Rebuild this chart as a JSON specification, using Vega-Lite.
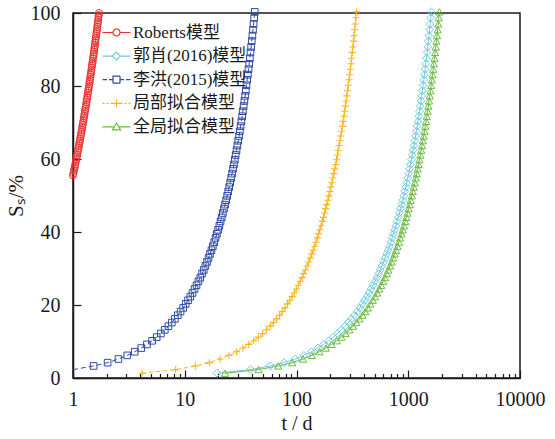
{
  "$schema": "https://vega.github.io/schema/vega-lite/v6.json",
  "width": 447,
  "height": 365,
  "autosize": "none",
  "padding": {"left": 73, "top": 13, "right": 35, "bottom": 61},
  "background": "white",
  "config": {
    "font": "Liberation Serif, Noto Sans CJK SC",
    "view": {"stroke": "#1a1a1a", "strokeWidth": 1.5},
    "axis": {
      "grid": false,
      "domainColor": "#1a1a1a",
      "domainWidth": 1.5,
      "tickColor": "#1a1a1a",
      "tickWidth": 1.2,
      "labelFont": "Liberation Serif, Noto Sans CJK SC",
      "labelFontSize": 20,
      "labelColor": "#1a1a1a",
      "titleFont": "Liberation Serif, Noto Sans CJK SC",
      "titleFontSize": 21,
      "titleFontWeight": "normal",
      "titleColor": "#1a1a1a"
    }
  },
  "data": {
    "values": [
      {"m":"Roberts模型","t":1.00,"s":55.5},{"m":"Roberts模型","t":1.01,"s":56.1},{"m":"Roberts模型","t":1.02,"s":56.8},{"m":"Roberts模型","t":1.03,"s":57.4},{"m":"Roberts模型","t":1.04,"s":58.0},{"m":"Roberts模型","t":1.05,"s":58.6},{"m":"Roberts模型","t":1.06,"s":59.3},{"m":"Roberts模型","t":1.07,"s":59.9},{"m":"Roberts模型","t":1.08,"s":60.5},{"m":"Roberts模型","t":1.09,"s":61.1},
      {"m":"Roberts模型","t":1.10,"s":61.8},{"m":"Roberts模型","t":1.11,"s":62.4},{"m":"Roberts模型","t":1.12,"s":63.0},{"m":"Roberts模型","t":1.13,"s":63.6},{"m":"Roberts模型","t":1.14,"s":64.3},{"m":"Roberts模型","t":1.15,"s":64.9},{"m":"Roberts模型","t":1.16,"s":65.5},{"m":"Roberts模型","t":1.17,"s":66.2},{"m":"Roberts模型","t":1.18,"s":66.8},{"m":"Roberts模型","t":1.19,"s":67.4},
      {"m":"Roberts模型","t":1.20,"s":68.0},{"m":"Roberts模型","t":1.21,"s":68.7},{"m":"Roberts模型","t":1.22,"s":69.3},{"m":"Roberts模型","t":1.23,"s":69.9},{"m":"Roberts模型","t":1.24,"s":70.5},{"m":"Roberts模型","t":1.25,"s":71.2},{"m":"Roberts模型","t":1.26,"s":71.8},{"m":"Roberts模型","t":1.27,"s":72.4},{"m":"Roberts模型","t":1.28,"s":73.1},{"m":"Roberts模型","t":1.29,"s":73.7},
      {"m":"Roberts模型","t":1.30,"s":74.3},{"m":"Roberts模型","t":1.31,"s":74.9},{"m":"Roberts模型","t":1.32,"s":75.6},{"m":"Roberts模型","t":1.33,"s":76.2},{"m":"Roberts模型","t":1.34,"s":76.8},{"m":"Roberts模型","t":1.35,"s":77.4},{"m":"Roberts模型","t":1.36,"s":78.1},{"m":"Roberts模型","t":1.37,"s":78.7},{"m":"Roberts模型","t":1.38,"s":79.3},{"m":"Roberts模型","t":1.39,"s":79.9},
      {"m":"Roberts模型","t":1.40,"s":80.6},{"m":"Roberts模型","t":1.41,"s":81.2},{"m":"Roberts模型","t":1.42,"s":81.8},{"m":"Roberts模型","t":1.43,"s":82.5},{"m":"Roberts模型","t":1.44,"s":83.1},{"m":"Roberts模型","t":1.45,"s":83.7},{"m":"Roberts模型","t":1.46,"s":84.3},{"m":"Roberts模型","t":1.47,"s":85.0},{"m":"Roberts模型","t":1.48,"s":85.6},{"m":"Roberts模型","t":1.49,"s":86.2},
      {"m":"Roberts模型","t":1.50,"s":86.8},{"m":"Roberts模型","t":1.51,"s":87.5},{"m":"Roberts模型","t":1.52,"s":88.1},{"m":"Roberts模型","t":1.53,"s":88.7},{"m":"Roberts模型","t":1.54,"s":89.3},{"m":"Roberts模型","t":1.55,"s":90.0},{"m":"Roberts模型","t":1.56,"s":90.6},{"m":"Roberts模型","t":1.57,"s":91.2},{"m":"Roberts模型","t":1.58,"s":91.9},{"m":"Roberts模型","t":1.59,"s":92.5},
      {"m":"Roberts模型","t":1.60,"s":93.1},{"m":"Roberts模型","t":1.61,"s":93.7},{"m":"Roberts模型","t":1.62,"s":94.4},{"m":"Roberts模型","t":1.63,"s":95.0},{"m":"Roberts模型","t":1.64,"s":95.6},{"m":"Roberts模型","t":1.65,"s":96.2},{"m":"Roberts模型","t":1.66,"s":96.9},{"m":"Roberts模型","t":1.67,"s":97.5},{"m":"Roberts模型","t":1.68,"s":98.1},{"m":"Roberts模型","t":1.69,"s":98.8},
      {"m":"Roberts模型","t":1.70,"s":99.4},{"m":"Roberts模型","t":1.71,"s":100.0},

      {"m":"郭肖(2016)模型","t":19.4,"s":1.3},{"m":"郭肖(2016)模型","t":38.8,"s":2.3},{"m":"郭肖(2016)模型","t":58.2,"s":3.3},{"m":"郭肖(2016)模型","t":77.6,"s":4.2},{"m":"郭肖(2016)模型","t":97,"s":5.2},{"m":"郭肖(2016)模型","t":116.4,"s":6.2},{"m":"郭肖(2016)模型","t":135.8,"s":7.2},{"m":"郭肖(2016)模型","t":155.2,"s":8.2},{"m":"郭肖(2016)模型","t":174.6,"s":9.2},{"m":"郭肖(2016)模型","t":194,"s":10.2},
      {"m":"郭肖(2016)模型","t":213.4,"s":11.2},{"m":"郭肖(2016)模型","t":232.8,"s":12.2},{"m":"郭肖(2016)模型","t":252.2,"s":13.2},{"m":"郭肖(2016)模型","t":271.6,"s":14.2},{"m":"郭肖(2016)模型","t":291,"s":15.2},{"m":"郭肖(2016)模型","t":310.4,"s":16.2},{"m":"郭肖(2016)模型","t":329.8,"s":17.2},{"m":"郭肖(2016)模型","t":349.2,"s":18.2},{"m":"郭肖(2016)模型","t":368.6,"s":19.2},{"m":"郭肖(2016)模型","t":388,"s":20.3},
      {"m":"郭肖(2016)模型","t":407.4,"s":21.3},{"m":"郭肖(2016)模型","t":426.8,"s":22.3},{"m":"郭肖(2016)模型","t":446.2,"s":23.3},{"m":"郭肖(2016)模型","t":465.6,"s":24.4},{"m":"郭肖(2016)模型","t":485,"s":25.4},{"m":"郭肖(2016)模型","t":504.4,"s":26.5},{"m":"郭肖(2016)模型","t":523.8,"s":27.5},{"m":"郭肖(2016)模型","t":543.2,"s":28.6},{"m":"郭肖(2016)模型","t":562.6,"s":29.6},{"m":"郭肖(2016)模型","t":582,"s":30.7},
      {"m":"郭肖(2016)模型","t":601.4,"s":31.8},{"m":"郭肖(2016)模型","t":620.8,"s":32.9},{"m":"郭肖(2016)模型","t":640.2,"s":34.0},{"m":"郭肖(2016)模型","t":659.6,"s":35.0},{"m":"郭肖(2016)模型","t":679,"s":36.1},{"m":"郭肖(2016)模型","t":698.4,"s":37.2},{"m":"郭肖(2016)模型","t":717.8,"s":38.4},{"m":"郭肖(2016)模型","t":737.2,"s":39.5},{"m":"郭肖(2016)模型","t":756.6,"s":40.6},{"m":"郭肖(2016)模型","t":776,"s":41.7},
      {"m":"郭肖(2016)模型","t":795.4,"s":42.9},{"m":"郭肖(2016)模型","t":814.8,"s":44.0},{"m":"郭肖(2016)模型","t":834.2,"s":45.2},{"m":"郭肖(2016)模型","t":853.6,"s":46.4},{"m":"郭肖(2016)模型","t":873,"s":47.5},{"m":"郭肖(2016)模型","t":892.4,"s":48.7},{"m":"郭肖(2016)模型","t":911.8,"s":49.9},{"m":"郭肖(2016)模型","t":931.2,"s":51.1},{"m":"郭肖(2016)模型","t":950.6,"s":52.3},{"m":"郭肖(2016)模型","t":970,"s":53.5},
      {"m":"郭肖(2016)模型","t":989.4,"s":54.8},{"m":"郭肖(2016)模型","t":1008.8,"s":56.0},{"m":"郭肖(2016)模型","t":1028.2,"s":57.3},{"m":"郭肖(2016)模型","t":1047.6,"s":58.5},{"m":"郭肖(2016)模型","t":1067,"s":59.8},{"m":"郭肖(2016)模型","t":1086.4,"s":61.1},{"m":"郭肖(2016)模型","t":1105.8,"s":62.4},{"m":"郭肖(2016)模型","t":1125.2,"s":63.7},{"m":"郭肖(2016)模型","t":1144.6,"s":65.0},{"m":"郭肖(2016)模型","t":1164,"s":66.3},
      {"m":"郭肖(2016)模型","t":1183.4,"s":67.6},{"m":"郭肖(2016)模型","t":1202.8,"s":69.0},{"m":"郭肖(2016)模型","t":1222.2,"s":70.3},{"m":"郭肖(2016)模型","t":1241.6,"s":71.7},{"m":"郭肖(2016)模型","t":1261,"s":73.1},{"m":"郭肖(2016)模型","t":1280.4,"s":74.5},{"m":"郭肖(2016)模型","t":1299.8,"s":75.9},{"m":"郭肖(2016)模型","t":1319.2,"s":77.3},{"m":"郭肖(2016)模型","t":1338.6,"s":78.7},{"m":"郭肖(2016)模型","t":1358,"s":80.2},
      {"m":"郭肖(2016)模型","t":1377.4,"s":81.7},{"m":"郭肖(2016)模型","t":1396.8,"s":83.1},{"m":"郭肖(2016)模型","t":1416.2,"s":84.6},{"m":"郭肖(2016)模型","t":1435.6,"s":86.1},{"m":"郭肖(2016)模型","t":1455,"s":87.6},{"m":"郭肖(2016)模型","t":1474.4,"s":89.2},{"m":"郭肖(2016)模型","t":1493.8,"s":90.7},{"m":"郭肖(2016)模型","t":1513.2,"s":92.3},{"m":"郭肖(2016)模型","t":1532.6,"s":93.8},{"m":"郭肖(2016)模型","t":1552,"s":95.4},
      {"m":"郭肖(2016)模型","t":1571.4,"s":97.0},{"m":"郭肖(2016)模型","t":1590.8,"s":98.7},{"m":"郭肖(2016)模型","t":1610.2,"s":100.3},

      {"m":"李洪(2015)模型","t":1.0,"s":2.3},
      {"m":"李洪(2015)模型","t":1.53,"s":3.3},{"m":"李洪(2015)模型","t":2.04,"s":4.2},{"m":"李洪(2015)模型","t":2.55,"s":5.2},{"m":"李洪(2015)模型","t":3.06,"s":6.2},{"m":"李洪(2015)模型","t":3.57,"s":7.2},{"m":"李洪(2015)模型","t":4.08,"s":8.2},{"m":"李洪(2015)模型","t":4.59,"s":9.2},{"m":"李洪(2015)模型","t":5.1,"s":10.2},
      {"m":"李洪(2015)模型","t":5.61,"s":11.2},{"m":"李洪(2015)模型","t":6.12,"s":12.2},{"m":"李洪(2015)模型","t":6.63,"s":13.2},{"m":"李洪(2015)模型","t":7.14,"s":14.2},{"m":"李洪(2015)模型","t":7.65,"s":15.2},{"m":"李洪(2015)模型","t":8.16,"s":16.2},{"m":"李洪(2015)模型","t":8.67,"s":17.2},{"m":"李洪(2015)模型","t":9.18,"s":18.2},{"m":"李洪(2015)模型","t":9.69,"s":19.2},{"m":"李洪(2015)模型","t":10.2,"s":20.3},
      {"m":"李洪(2015)模型","t":10.71,"s":21.3},{"m":"李洪(2015)模型","t":11.22,"s":22.3},{"m":"李洪(2015)模型","t":11.73,"s":23.3},{"m":"李洪(2015)模型","t":12.24,"s":24.4},{"m":"李洪(2015)模型","t":12.75,"s":25.4},{"m":"李洪(2015)模型","t":13.26,"s":26.5},{"m":"李洪(2015)模型","t":13.77,"s":27.5},{"m":"李洪(2015)模型","t":14.28,"s":28.6},{"m":"李洪(2015)模型","t":14.79,"s":29.6},{"m":"李洪(2015)模型","t":15.3,"s":30.7},
      {"m":"李洪(2015)模型","t":15.81,"s":31.8},{"m":"李洪(2015)模型","t":16.32,"s":32.9},{"m":"李洪(2015)模型","t":16.83,"s":34.0},{"m":"李洪(2015)模型","t":17.34,"s":35.0},{"m":"李洪(2015)模型","t":17.85,"s":36.1},{"m":"李洪(2015)模型","t":18.36,"s":37.2},{"m":"李洪(2015)模型","t":18.87,"s":38.4},{"m":"李洪(2015)模型","t":19.38,"s":39.5},{"m":"李洪(2015)模型","t":19.89,"s":40.6},{"m":"李洪(2015)模型","t":20.4,"s":41.7},
      {"m":"李洪(2015)模型","t":20.91,"s":42.9},{"m":"李洪(2015)模型","t":21.42,"s":44.0},{"m":"李洪(2015)模型","t":21.93,"s":45.2},{"m":"李洪(2015)模型","t":22.44,"s":46.4},{"m":"李洪(2015)模型","t":22.95,"s":47.5},{"m":"李洪(2015)模型","t":23.46,"s":48.7},{"m":"李洪(2015)模型","t":23.97,"s":49.9},{"m":"李洪(2015)模型","t":24.48,"s":51.1},{"m":"李洪(2015)模型","t":24.99,"s":52.3},{"m":"李洪(2015)模型","t":25.5,"s":53.5},
      {"m":"李洪(2015)模型","t":26.01,"s":54.8},{"m":"李洪(2015)模型","t":26.52,"s":56.0},{"m":"李洪(2015)模型","t":27.03,"s":57.3},{"m":"李洪(2015)模型","t":27.54,"s":58.5},{"m":"李洪(2015)模型","t":28.05,"s":59.8},{"m":"李洪(2015)模型","t":28.56,"s":61.1},{"m":"李洪(2015)模型","t":29.07,"s":62.4},{"m":"李洪(2015)模型","t":29.58,"s":63.7},{"m":"李洪(2015)模型","t":30.09,"s":65.0},{"m":"李洪(2015)模型","t":30.6,"s":66.3},
      {"m":"李洪(2015)模型","t":31.11,"s":67.6},{"m":"李洪(2015)模型","t":31.62,"s":69.0},{"m":"李洪(2015)模型","t":32.13,"s":70.3},{"m":"李洪(2015)模型","t":32.64,"s":71.7},{"m":"李洪(2015)模型","t":33.15,"s":73.1},{"m":"李洪(2015)模型","t":33.66,"s":74.5},{"m":"李洪(2015)模型","t":34.17,"s":75.9},{"m":"李洪(2015)模型","t":34.68,"s":77.3},{"m":"李洪(2015)模型","t":35.19,"s":78.7},{"m":"李洪(2015)模型","t":35.7,"s":80.2},
      {"m":"李洪(2015)模型","t":36.21,"s":81.7},{"m":"李洪(2015)模型","t":36.72,"s":83.1},{"m":"李洪(2015)模型","t":37.23,"s":84.6},{"m":"李洪(2015)模型","t":37.74,"s":86.1},{"m":"李洪(2015)模型","t":38.25,"s":87.6},{"m":"李洪(2015)模型","t":38.76,"s":89.2},{"m":"李洪(2015)模型","t":39.27,"s":90.7},{"m":"李洪(2015)模型","t":39.78,"s":92.3},{"m":"李洪(2015)模型","t":40.29,"s":93.8},{"m":"李洪(2015)模型","t":40.8,"s":95.4},
      {"m":"李洪(2015)模型","t":41.31,"s":97.0},{"m":"李洪(2015)模型","t":41.82,"s":98.7},{"m":"李洪(2015)模型","t":42.33,"s":100.3},

      {"m":"局部拟合模型","t":4.15,"s":1.3},{"m":"局部拟合模型","t":8.3,"s":2.3},{"m":"局部拟合模型","t":12.45,"s":3.3},{"m":"局部拟合模型","t":16.6,"s":4.2},{"m":"局部拟合模型","t":20.75,"s":5.2},{"m":"局部拟合模型","t":24.9,"s":6.2},{"m":"局部拟合模型","t":29.05,"s":7.2},{"m":"局部拟合模型","t":33.2,"s":8.2},{"m":"局部拟合模型","t":37.35,"s":9.2},{"m":"局部拟合模型","t":41.5,"s":10.2},
      {"m":"局部拟合模型","t":45.65,"s":11.2},{"m":"局部拟合模型","t":49.8,"s":12.2},{"m":"局部拟合模型","t":53.95,"s":13.2},{"m":"局部拟合模型","t":58.1,"s":14.2},{"m":"局部拟合模型","t":62.25,"s":15.2},{"m":"局部拟合模型","t":66.4,"s":16.2},{"m":"局部拟合模型","t":70.55,"s":17.2},{"m":"局部拟合模型","t":74.7,"s":18.2},{"m":"局部拟合模型","t":78.85,"s":19.2},{"m":"局部拟合模型","t":83,"s":20.3},
      {"m":"局部拟合模型","t":87.15,"s":21.3},{"m":"局部拟合模型","t":91.3,"s":22.3},{"m":"局部拟合模型","t":95.45,"s":23.3},{"m":"局部拟合模型","t":99.6,"s":24.4},{"m":"局部拟合模型","t":103.75,"s":25.4},{"m":"局部拟合模型","t":107.9,"s":26.5},{"m":"局部拟合模型","t":112.05,"s":27.5},{"m":"局部拟合模型","t":116.2,"s":28.6},{"m":"局部拟合模型","t":120.35,"s":29.6},{"m":"局部拟合模型","t":124.5,"s":30.7},
      {"m":"局部拟合模型","t":128.65,"s":31.8},{"m":"局部拟合模型","t":132.8,"s":32.9},{"m":"局部拟合模型","t":136.95,"s":34.0},{"m":"局部拟合模型","t":141.1,"s":35.0},{"m":"局部拟合模型","t":145.25,"s":36.1},{"m":"局部拟合模型","t":149.4,"s":37.2},{"m":"局部拟合模型","t":153.55,"s":38.4},{"m":"局部拟合模型","t":157.7,"s":39.5},{"m":"局部拟合模型","t":161.85,"s":40.6},{"m":"局部拟合模型","t":166,"s":41.7},
      {"m":"局部拟合模型","t":170.15,"s":42.9},{"m":"局部拟合模型","t":174.3,"s":44.0},{"m":"局部拟合模型","t":178.45,"s":45.2},{"m":"局部拟合模型","t":182.6,"s":46.4},{"m":"局部拟合模型","t":186.75,"s":47.5},{"m":"局部拟合模型","t":190.9,"s":48.7},{"m":"局部拟合模型","t":195.05,"s":49.9},{"m":"局部拟合模型","t":199.2,"s":51.1},{"m":"局部拟合模型","t":203.35,"s":52.3},{"m":"局部拟合模型","t":207.5,"s":53.5},
      {"m":"局部拟合模型","t":211.65,"s":54.8},{"m":"局部拟合模型","t":215.8,"s":56.0},{"m":"局部拟合模型","t":219.95,"s":57.3},{"m":"局部拟合模型","t":224.1,"s":58.5},{"m":"局部拟合模型","t":228.25,"s":59.8},{"m":"局部拟合模型","t":232.4,"s":61.1},{"m":"局部拟合模型","t":236.55,"s":62.4},{"m":"局部拟合模型","t":240.7,"s":63.7},{"m":"局部拟合模型","t":244.85,"s":65.0},{"m":"局部拟合模型","t":249,"s":66.3},
      {"m":"局部拟合模型","t":253.15,"s":67.6},{"m":"局部拟合模型","t":257.3,"s":69.0},{"m":"局部拟合模型","t":261.45,"s":70.3},{"m":"局部拟合模型","t":265.6,"s":71.7},{"m":"局部拟合模型","t":269.75,"s":73.1},{"m":"局部拟合模型","t":273.9,"s":74.5},{"m":"局部拟合模型","t":278.05,"s":75.9},{"m":"局部拟合模型","t":282.2,"s":77.3},{"m":"局部拟合模型","t":286.35,"s":78.7},{"m":"局部拟合模型","t":290.5,"s":80.2},
      {"m":"局部拟合模型","t":294.65,"s":81.7},{"m":"局部拟合模型","t":298.8,"s":83.1},{"m":"局部拟合模型","t":302.95,"s":84.6},{"m":"局部拟合模型","t":307.1,"s":86.1},{"m":"局部拟合模型","t":311.25,"s":87.6},{"m":"局部拟合模型","t":315.4,"s":89.2},{"m":"局部拟合模型","t":319.55,"s":90.7},{"m":"局部拟合模型","t":323.7,"s":92.3},{"m":"局部拟合模型","t":327.85,"s":93.8},{"m":"局部拟合模型","t":332,"s":95.4},
      {"m":"局部拟合模型","t":336.15,"s":97.0},{"m":"局部拟合模型","t":340.3,"s":98.7},{"m":"局部拟合模型","t":344.45,"s":100.3},

      {"m":"全局拟合模型","t":22.9,"s":1.3},{"m":"全局拟合模型","t":45.8,"s":2.3},{"m":"全局拟合模型","t":68.7,"s":3.3},{"m":"全局拟合模型","t":91.6,"s":4.2},{"m":"全局拟合模型","t":114.5,"s":5.2},{"m":"全局拟合模型","t":137.4,"s":6.2},{"m":"全局拟合模型","t":160.3,"s":7.2},{"m":"全局拟合模型","t":183.2,"s":8.2},{"m":"全局拟合模型","t":206.1,"s":9.2},{"m":"全局拟合模型","t":229,"s":10.2},
      {"m":"全局拟合模型","t":251.9,"s":11.2},{"m":"全局拟合模型","t":274.8,"s":12.2},{"m":"全局拟合模型","t":297.7,"s":13.2},{"m":"全局拟合模型","t":320.6,"s":14.2},{"m":"全局拟合模型","t":343.5,"s":15.2},{"m":"全局拟合模型","t":366.4,"s":16.2},{"m":"全局拟合模型","t":389.3,"s":17.2},{"m":"全局拟合模型","t":412.2,"s":18.2},{"m":"全局拟合模型","t":435.1,"s":19.2},{"m":"全局拟合模型","t":458,"s":20.3},
      {"m":"全局拟合模型","t":480.9,"s":21.3},{"m":"全局拟合模型","t":503.8,"s":22.3},{"m":"全局拟合模型","t":526.7,"s":23.3},{"m":"全局拟合模型","t":549.6,"s":24.4},{"m":"全局拟合模型","t":572.5,"s":25.4},{"m":"全局拟合模型","t":595.4,"s":26.5},{"m":"全局拟合模型","t":618.3,"s":27.5},{"m":"全局拟合模型","t":641.2,"s":28.6},{"m":"全局拟合模型","t":664.1,"s":29.6},{"m":"全局拟合模型","t":687,"s":30.7},
      {"m":"全局拟合模型","t":709.9,"s":31.8},{"m":"全局拟合模型","t":732.8,"s":32.9},{"m":"全局拟合模型","t":755.7,"s":34.0},{"m":"全局拟合模型","t":778.6,"s":35.0},{"m":"全局拟合模型","t":801.5,"s":36.1},{"m":"全局拟合模型","t":824.4,"s":37.2},{"m":"全局拟合模型","t":847.3,"s":38.4},{"m":"全局拟合模型","t":870.2,"s":39.5},{"m":"全局拟合模型","t":893.1,"s":40.6},{"m":"全局拟合模型","t":916,"s":41.7},
      {"m":"全局拟合模型","t":938.9,"s":42.9},{"m":"全局拟合模型","t":961.8,"s":44.0},{"m":"全局拟合模型","t":984.7,"s":45.2},{"m":"全局拟合模型","t":1007.6,"s":46.4},{"m":"全局拟合模型","t":1030.5,"s":47.5},{"m":"全局拟合模型","t":1053.4,"s":48.7},{"m":"全局拟合模型","t":1076.3,"s":49.9},{"m":"全局拟合模型","t":1099.2,"s":51.1},{"m":"全局拟合模型","t":1122.1,"s":52.3},{"m":"全局拟合模型","t":1145,"s":53.5},
      {"m":"全局拟合模型","t":1167.9,"s":54.8},{"m":"全局拟合模型","t":1190.8,"s":56.0},{"m":"全局拟合模型","t":1213.7,"s":57.3},{"m":"全局拟合模型","t":1236.6,"s":58.5},{"m":"全局拟合模型","t":1259.5,"s":59.8},{"m":"全局拟合模型","t":1282.4,"s":61.1},{"m":"全局拟合模型","t":1305.3,"s":62.4},{"m":"全局拟合模型","t":1328.2,"s":63.7},{"m":"全局拟合模型","t":1351.1,"s":65.0},{"m":"全局拟合模型","t":1374,"s":66.3},
      {"m":"全局拟合模型","t":1396.9,"s":67.6},{"m":"全局拟合模型","t":1419.8,"s":69.0},{"m":"全局拟合模型","t":1442.7,"s":70.3},{"m":"全局拟合模型","t":1465.6,"s":71.7},{"m":"全局拟合模型","t":1488.5,"s":73.1},{"m":"全局拟合模型","t":1511.4,"s":74.5},{"m":"全局拟合模型","t":1534.3,"s":75.9},{"m":"全局拟合模型","t":1557.2,"s":77.3},{"m":"全局拟合模型","t":1580.1,"s":78.7},{"m":"全局拟合模型","t":1603,"s":80.2},
      {"m":"全局拟合模型","t":1625.9,"s":81.7},{"m":"全局拟合模型","t":1648.8,"s":83.1},{"m":"全局拟合模型","t":1671.7,"s":84.6},{"m":"全局拟合模型","t":1694.6,"s":86.1},{"m":"全局拟合模型","t":1717.5,"s":87.6},{"m":"全局拟合模型","t":1740.4,"s":89.2},{"m":"全局拟合模型","t":1763.3,"s":90.7},{"m":"全局拟合模型","t":1786.2,"s":92.3},{"m":"全局拟合模型","t":1809.1,"s":93.8},{"m":"全局拟合模型","t":1832,"s":95.4},
      {"m":"全局拟合模型","t":1854.9,"s":97.0},{"m":"全局拟合模型","t":1877.8,"s":98.7},{"m":"全局拟合模型","t":1900.7,"s":100.3}
    ]
  },
  "encoding": {
    "x": {
      "field": "t",
      "type": "quantitative",
      "scale": {"type": "log", "domain": [1, 10000], "nice": false},
      "axis": {
        "title": "t / d",
        "titleFont": "Liberation Serif, Noto Sans CJK SC",
        "titleFontSize": 20,
        "titlePadding": 1,
        "labelFont": "Liberation Serif, Noto Sans CJK SC",
        "values": [1,2,3,4,5,6,7,8,9,10,20,30,40,50,60,70,80,90,100,200,300,400,500,600,700,800,900,1000,2000,3000,4000,5000,6000,7000,8000,9000,10000],
        "labelExpr": "datum.value == 1 || datum.value == 10 || datum.value == 100 || datum.value == 1000 || datum.value == 10000 ? format(datum.value, 'd') : ''",
        "labelOverlap": false,
        "labelFlush": false,
        "labelPadding": 19,
        "tickSize": {"condition": {"test": "datum.value == 1 || datum.value == 10 || datum.value == 100 || datum.value == 1000 || datum.value == 10000", "value": -8}, "value": -4.5}
      }
    },
    "y": {
      "field": "s",
      "type": "quantitative",
      "scale": {"domain": [0, 100], "nice": false},
      "axis": {
        "title": "Sₛ/%",
        "titleFont": "Liberation Serif, Noto Sans CJK SC",
        "titlePadding": 4,
        "labelFont": "Liberation Serif, Noto Sans CJK SC",
        "values": [0, 20, 40, 60, 80, 100],
        "tickSize": -8,
        "labelPadding": 21
      }
    },
    "color": {
      "field": "m",
      "type": "nominal",
      "scale": {
        "domain": ["Roberts模型", "郭肖(2016)模型", "李洪(2015)模型", "局部拟合模型", "全局拟合模型"],
        "range": ["#e9312f", "#72cadb", "#2f4aa3", "#f8b51c", "#6cbb46"]
      },
      "legend": {
        "title": null,
        "orient": "none",
        "legendX": 35,
        "legendY": 11,
        "padding": 0,
        "labelFont": "Liberation Serif, Noto Sans CJK SC",
        "labelFontSize": 17,
        "labelColor": "#1a1a1a",
        "labelOffset": 8,
        "rowPadding": 5.6,
        "symbolSize": 100,
        "symbolStrokeWidth": 1.2,
        "encode": {
          "symbols": {
            "update": {
              "fill": {"value": "transparent"},
              "strokeWidth": {"value": 1.2},
              "strokeDash": {"value": [1, 0]},
              "shape": {"signal": "datum.value === 'Roberts模型' ? 'M-2.8,0H-0.7M0.7,0H2.8M0.7,0A0.7,0.7,0,1,1,-0.7,0A0.7,0.7,0,1,1,0.7,0' : datum.value === '郭肖(2016)模型' ? 'M-2.8,0H-0.8M0.8,0H2.8M0,-0.8L0.8,0L0,0.8L-0.8,0Z' : datum.value === '李洪(2015)模型' ? 'M-2.8,0H-1.9M-1.5,0H-0.7M0.7,0H1.5M1.9,0H2.8M-0.7,-0.7H0.7V0.7H-0.7Z' : datum.value === '局部拟合模型' ? 'M-2.8,0H-2.4M-2,0H-1.6M-1.2,0H-0.8M0.8,0H1.2M1.6,0H2M2.4,0H2.8M-0.8,0H0.8M0,-0.8V0.8' : 'M-2.8,0H-0.5M0.5,0H2.8M0,-0.8L0.8,0.6L-0.8,0.6Z'"}
            }
          }
        }
      }
    }
  },
  "layer": [
    {
      "transform": [{"filter": "datum.m === 'Roberts模型' || datum.m === '郭肖(2016)模型' || datum.m === '全局拟合模型'"}],
      "mark": {"type": "line", "strokeWidth": 1}
    },
    {
      "transform": [{"filter": "datum.m === '李洪(2015)模型'"}],
      "mark": {"type": "line", "strokeWidth": 1, "strokeDash": [5, 3]}
    },
    {
      "transform": [{"filter": "datum.m === '局部拟合模型'"}],
      "mark": {"type": "line", "strokeWidth": 1, "strokeDash": [4, 3]}
    },
    {
      "transform": [{"filter": "datum.m === 'Roberts模型'"}],
      "mark": {"type": "point", "shape": "circle", "filled": false, "strokeWidth": 1, "size": 50, "opacity": 1}
    },
    {
      "transform": [{"filter": "datum.m === '郭肖(2016)模型'"}],
      "mark": {"type": "point", "shape": "diamond", "filled": false, "strokeWidth": 1, "size": 60, "opacity": 1}
    },
    {
      "transform": [{"filter": "datum.m === '李洪(2015)模型' && datum.t > 1.2"}],
      "mark": {"type": "point", "shape": "square", "filled": false, "strokeWidth": 1, "size": 44, "opacity": 1}
    },
    {
      "transform": [{"filter": "datum.m === '局部拟合模型'"}],
      "mark": {"type": "point", "shape": "M-1,0H1M0,-1V1", "filled": false, "strokeWidth": 1.1, "size": 50, "opacity": 1}
    },
    {
      "transform": [{"filter": "datum.m === '全局拟合模型'"}],
      "mark": {"type": "point", "shape": "triangle-up", "filled": false, "strokeWidth": 1, "size": 52, "opacity": 1}
    }
  ]
}
